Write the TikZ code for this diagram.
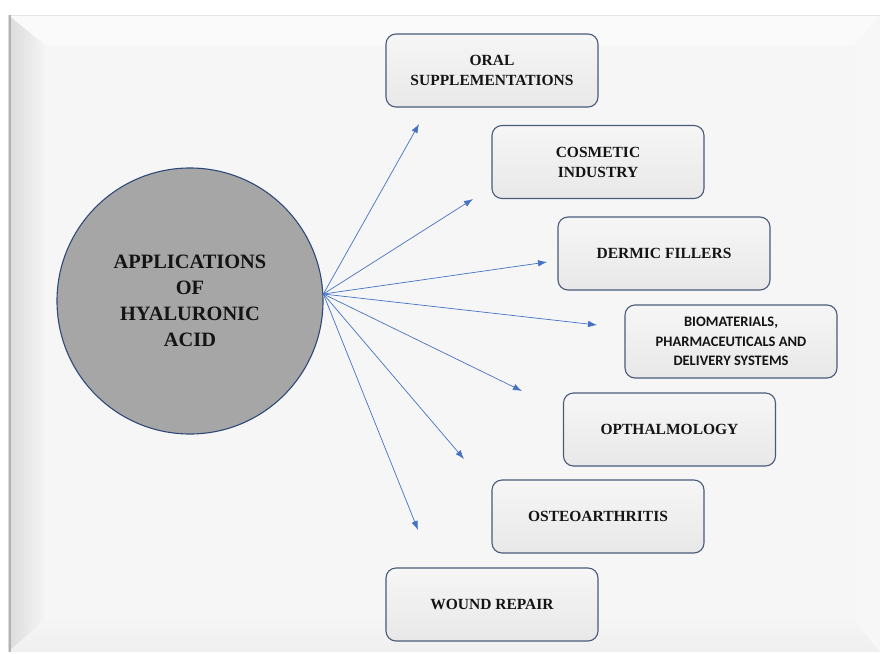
\documentclass[tikz,border=0pt]{standalone}
\usepackage{fontspec}
\setmainfont{Liberation Serif}
\newfontfamily\calib{Carlito}
\usetikzlibrary{arrows.meta,shadings}
\definecolor{arrowblue}{HTML}{4472C4}
\definecolor{circfill}{HTML}{A6A6A6}
\definecolor{circline}{HTML}{2F4A78}
\definecolor{boxline}{HTML}{4A5A78}
\definecolor{boxtop}{HTML}{F6F6F6}
\definecolor{boxbot}{HTML}{E8E8E8}
\definecolor{facecol}{HTML}{F6F6F6}
\definecolor{txt}{HTML}{141414}
\tikzset{
  appbox/.style={draw=boxline, line width=1.1pt, rounded corners=10pt,
    top color=boxtop, bottom color=boxbot, minimum width=212pt,
    minimum height=73pt, inner sep=0pt, align=center, text=txt,
    font=\bfseries\fontsize{15.5}{20}\selectfont},
  hub/.style={circle, draw=circline, line width=1.1pt, fill=circfill,
    minimum size=266pt, inner sep=0pt, align=center, text=txt,
    font=\bfseries\fontsize{20.4}{26}\selectfont},
  link/.style={draw=arrowblue, line width=0.7pt,
    -{Latex[length=9pt,width=6.5pt]}}
}
\begin{document}
\begin{tikzpicture}[x=1pt,y=-1pt]
\useasboundingbox (0,0) rectangle (880,653);
% background panel
\fill[white] (0,0) rectangle (880,653);
\fill[facecol] (8,15) rectangle (880,652);
\fill[white!98!black] (8,15) -- (880,15) -- (855,45) -- (45,45) -- cycle;
\shade[left color=black!14, right color=black!4] (8,15) -- (45,45) -- (45,620) -- (8,652) -- cycle;
\shade[top color=black!4, bottom color=black!6] (8,652) -- (45,620) -- (855,620) -- (880,652) -- cycle;
\fill[white!97!black] (880,15) -- (855,45) -- (855,620) -- (880,652) -- cycle;
\draw[black!10, line width=0.8pt] (8,15) -- (880,15);
\draw[black!30, line width=2pt] (10,15) -- (10,652);
% hub
\node[hub] (hub) at (190,301) {APPLICATIONS\\OF\\HYALURONIC\\ACID};
% boxes
\node[appbox] (oral) at (492,70.5) {ORAL\\SUPPLEMENTATIONS};
\node[appbox] (cosm) at (598,162) {COSMETIC\\INDUSTRY};
\node[appbox] (derm) at (664,253.5) {DERMIC FILLERS};
\node[appbox, font=\calib\bfseries\fontsize{14.5}{19.5}\selectfont] (bio) at (731,341.5) {BIOMATERIALS,\\PHARMACEUTICALS AND\\DELIVERY SYSTEMS};
\node[appbox] (opth) at (669.5,429.5) {OPTHALMOLOGY};
\node[appbox] (oste) at (598,516.5) {OSTEOARTHRITIS};
\node[appbox] (wound) at (492,604.5) {WOUND REPAIR};
% arrow ends
\coordinate (src) at (hub.3.5);
\coordinate (eoral) at (419,124);
\coordinate (ecosm) at (473,199);
\coordinate (ederm) at (547,262);
\coordinate (ebio) at (597,325);
\coordinate (eopth) at (522,391);
\coordinate (eoste) at (464,459);
\coordinate (ewound) at (418,530);
\foreach \e in {eoral,ecosm,ederm,ebio,eopth,eoste,ewound}
  \draw[link] (src) -- (\e);
\end{tikzpicture}
\end{document}
